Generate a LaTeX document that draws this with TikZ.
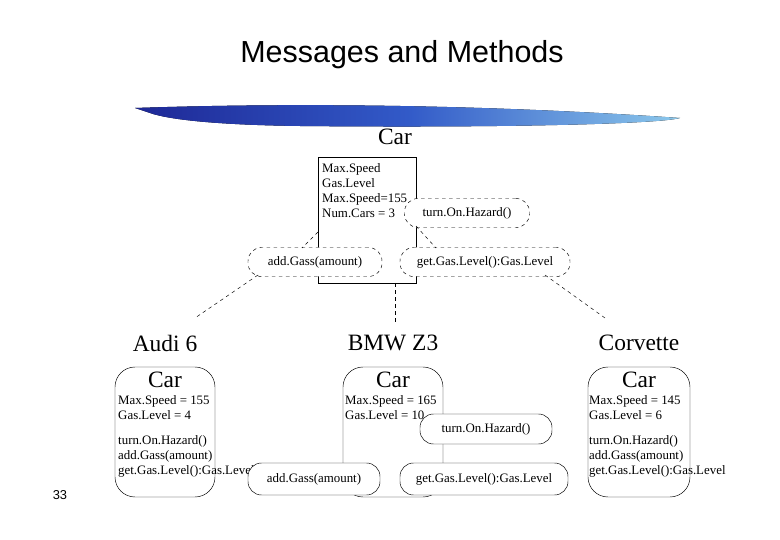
\documentclass[tikz,border=0pt]{standalone}
\usepackage{fontspec}
\setmainfont{Liberation Serif}
\newfontfamily\sansf{Liberation Sans}
\definecolor{navy}{RGB}{30,40,150}
\definecolor{lblue}{RGB}{140,200,235}
\definecolor{mblue}{RGB}{50,90,200}
\begin{document}
\begin{tikzpicture}[x=0.03cm,y=-0.03cm,
  txt/.style={font=\fontsize{11}{13}\selectfont,inner sep=0pt},
  big/.style={font=\fontsize{20}{22}\selectfont,inner sep=0pt},
  meth/.style={draw,fill=white,rounded corners=13.5*0.03cm,font=\fontsize{11}{13}\selectfont},
  dmeth/.style={meth,dashed},
  obj/.style={draw,rounded corners=0.6cm},
  dl/.style={dashed}]
\useasboundingbox (0,0) rectangle (780,540);
% title and swoosh
\node[font=\sansf\fontsize{26}{30}\selectfont] (title) at (402,55) {Messages and Methods};
\fill[left color=navy, right color=lblue, middle color=mblue]
  (135,108) .. controls (250,104) and (450,102) .. (680,118)
  .. controls (660,124) and (500,128) .. (300,126)
  .. controls (220,125) and (170,120) .. (150,113) -- cycle;
% class
\node[big] (cartitle) at (395,137) {Car};
\draw (318,157) rectangle (416,283);
\coordinate (bl) at (318,232); \coordinate (br) at (416,226);
\coordinate (bb) at (395,283);
\node[txt,anchor=north west,align=left] (attrs) at (322,163) {Max.Speed\\Gas.Level\\Max.Speed=155\\Num.Cars = 3};
\node[dmeth,minimum width=125*0.03cm,minimum height=29*0.03cm] (hz) at (467,213) {turn.On.Hazard()};
\node[dmeth,minimum width=134*0.03cm,minimum height=29*0.03cm] (ag) at (315,262) {add.Gass(amount)};
\node[dmeth,minimum width=170*0.03cm,minimum height=29*0.03cm] (gl) at (485,262) {get.Gas.Level():Gas.Level};
\coordinate (agt) at (302,248); \coordinate (glt) at (436,248);
\coordinate (agb) at (258,275); \coordinate (glb) at (545,275);
\coordinate (audiT) at (195,318); \coordinate (bmwT) at (395,322); \coordinate (corT) at (605,318);
\draw[dl] (bl) -- (agt);
\draw[dl] (agb) -- (audiT);
\draw[dl] (bb) -- (bmwT);
\draw[dl] (glb) -- (corT);
\draw[dl] (br) -- (glt);
% instances
\foreach \n/\x/\name in {audi/165/Audi 6, bmw/393/BMW Z3, cor/639/Corvette}{
  \node[big] (\n name) at (\x,343) {\name};
  \node[big] (\n car) at (\x,380) {Car};
}
\draw[obj] (115,367) rectangle (215,497);
\draw[obj] (343,367) rectangle (443,497);
\draw[obj] (588,367) rectangle (690,497);
\node[txt,anchor=north west,align=left] (a1) at (118,395) {Max.Speed = 155\\Gas.Level = 4};
\node[txt,anchor=north west,align=left] (a2) at (118,435) {turn.On.Hazard()\\add.Gass(amount)\\get.Gas.Level():Gas.Level};
\node[txt,anchor=north west,align=left] (b1) at (345,395) {Max.Speed = 165\\Gas.Level = 10};
\node[txt,anchor=north west,align=left] (c1) at (589,395) {Max.Speed = 145\\Gas.Level = 6};
\node[txt,anchor=north west,align=left] (c2) at (589,435) {turn.On.Hazard()\\add.Gass(amount)\\get.Gas.Level():Gas.Level};
\node[meth,minimum width=132*0.03cm,minimum height=30*0.03cm] (bhz) at (486,429) {turn.On.Hazard()};
\node[meth,minimum width=132*0.03cm,minimum height=32*0.03cm] (bag) at (314,479) {add.Gass(amount)};
\node[meth,minimum width=168*0.03cm,minimum height=32*0.03cm] (bgl) at (484,479) {get.Gas.Level():Gas.Level};
\node[font=\sansf\fontsize{11}{13}\selectfont] (pg) at (60,495) {33};
\end{tikzpicture}
\end{document}
